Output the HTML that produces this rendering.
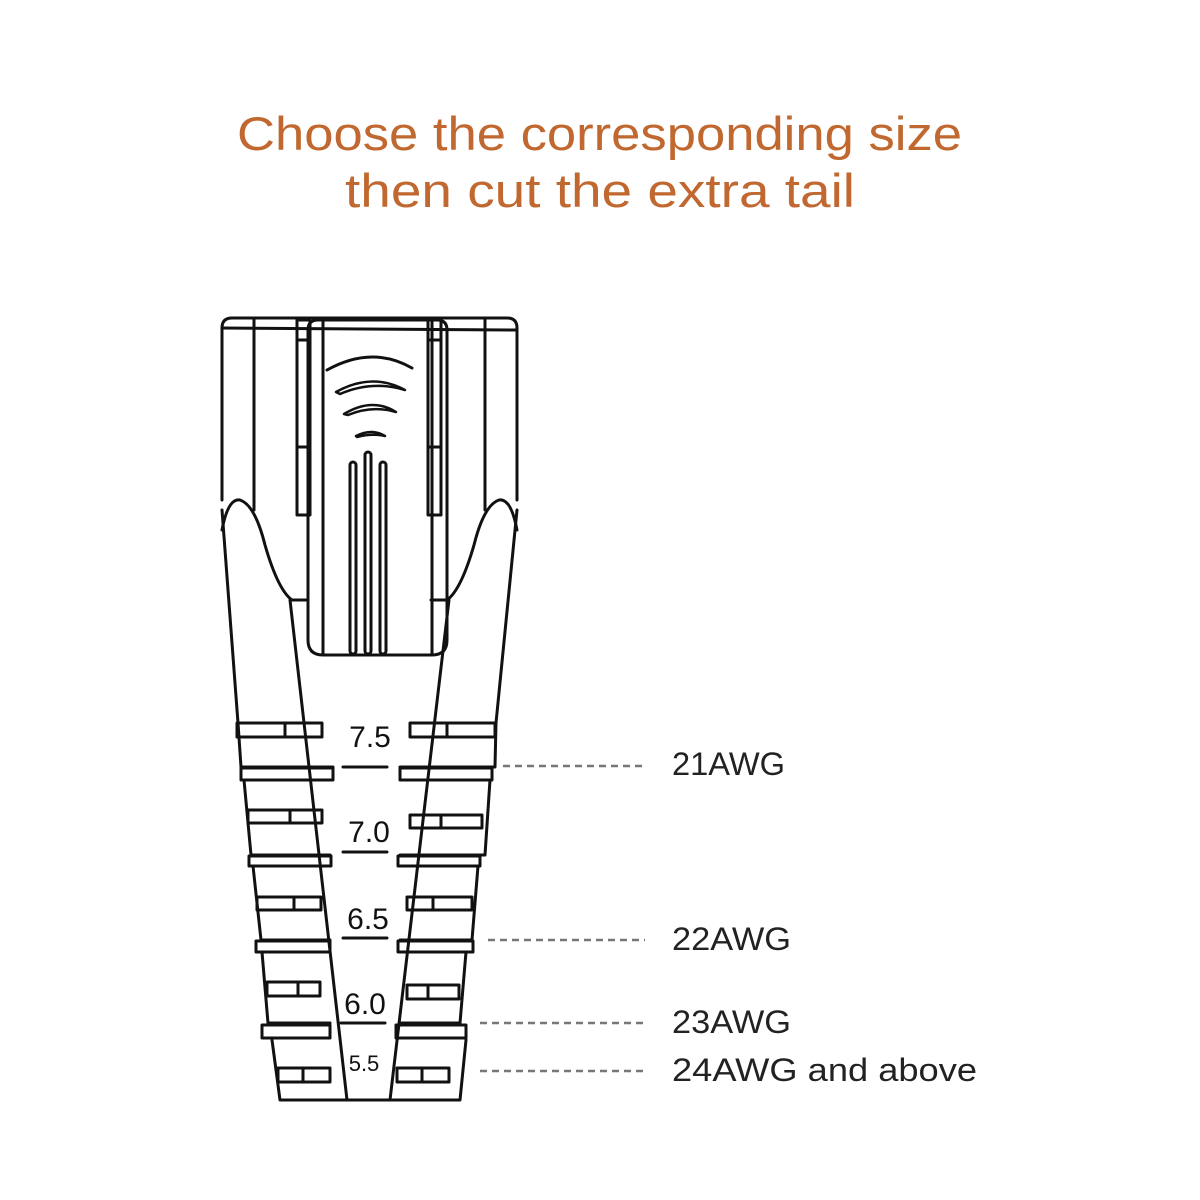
<!DOCTYPE html>
<html><head><meta charset="utf-8"><style>
html,body{margin:0;padding:0;background:#fff;}
svg{display:block}
</style></head><body>
<svg width="1200" height="1200" viewBox="0 0 1200 1200" xmlns="http://www.w3.org/2000/svg">
<rect width="1200" height="1200" fill="#fff"/>
<g font-family="Liberation Sans, sans-serif" fill="#c0682f" font-size="47">
<text x="237" y="150" textLength="725" lengthAdjust="spacingAndGlyphs">Choose the corresponding size</text>
<text x="345" y="207" textLength="510" lengthAdjust="spacingAndGlyphs">then cut the extra tail</text>
</g>
<g fill="none" stroke="#111" stroke-width="3" stroke-linejoin="round" stroke-linecap="round">
<!-- top body -->
<path d="M222,500 L222,328 Q222,318 232,318 L507,318 Q517,318 517,328 L517,500"/>
<line x1="222" y1="328" x2="517" y2="330"/>
<line x1="254" y1="320" x2="254" y2="510"/>
<line x1="485" y1="320" x2="485" y2="510"/>
<rect x="297" y="320" width="13" height="195"/>
<line x1="297" y1="340" x2="310" y2="340"/><line x1="297" y1="447" x2="310" y2="447"/>
<rect x="428" y="320" width="13" height="195"/>
<line x1="428" y1="340" x2="441" y2="340"/><line x1="428" y1="447" x2="441" y2="447"/>
<!-- clip -->
<path d="M308,330 Q308,320 318,320 L437,320 Q447,320 447,330 L447,640 Q447,655 432,655 L323,655 Q308,655 308,640 Z"/>
<line x1="323" y1="322" x2="323" y2="654"/>
<line x1="432" y1="322" x2="432" y2="654"/>
<!-- arcs -->
<path d="M327,370 Q372,345 412,368"/>
<path d="M336,392 Q372,372 405,390 Q372,380 340,394 Z" stroke-width="2.5"/>
<path d="M344,414 Q372,397 396,412 Q372,405 348,415 Z" stroke-width="2.5"/>
<path d="M356,436 Q372,428 385,436 Q372,433 357,437 Z" stroke-width="2.5"/>
<!-- slots -->
<rect x="350" y="462" width="6" height="192" rx="3"/>
<rect x="365" y="452" width="6" height="202" rx="3"/>
<rect x="380" y="462" width="6" height="192" rx="3"/>
<!-- humps -->
<path d="M222,530 Q228,498 240,500 Q255,505 265,545 Q278,590 292,600 L308,600"/>
<path d="M517,530 Q511,498 499,500 Q484,505 474,545 Q461,590 447,600 L431,600"/>
<!-- outer edges -->
<path d="M222,510 L238,723"/>
<path d="M517,510 L496,723"/>
<!-- inner V -->
<line x1="290" y1="600" x2="347" y2="1100"/>
<line x1="449" y1="600" x2="390" y2="1100"/>
<!-- left segments -->
<path d="M238,723 L241,767 L333,767"/>
<rect x="237" y="723" width="85" height="14"/><line x1="285" y1="723" x2="285" y2="737"/>
<rect x="241" y="768" width="92" height="12"/>
<path d="M244,780 L251,855 L330,855"/>
<rect x="248" y="810" width="74" height="13"/><line x1="290" y1="810" x2="290" y2="823"/>
<rect x="249" y="856" width="82" height="10"/>
<path d="M253,866 L261,940 L330,940"/>
<rect x="257" y="897" width="64" height="13"/><line x1="294" y1="897" x2="294" y2="910"/>
<rect x="256" y="941" width="74" height="11"/>
<path d="M262,952 L268,1023 L330,1023"/>
<rect x="267" y="982" width="53" height="14"/><line x1="298" y1="982" x2="298" y2="996"/>
<rect x="262" y="1025" width="68" height="13"/>
<path d="M272,1040 L280,1100 L460,1100 L466,1040"/>
<rect x="278" y="1068" width="52" height="14"/><line x1="303" y1="1068" x2="303" y2="1082"/>
<!-- right segments -->
<path d="M496,723 L495,767 L400,767"/>
<rect x="410" y="723" width="85" height="14"/><line x1="447" y1="723" x2="447" y2="737"/>
<rect x="400" y="768" width="92" height="12"/>
<path d="M490,780 L485,855 L400,855"/>
<rect x="410" y="815" width="72" height="13"/><line x1="441" y1="815" x2="441" y2="828"/>
<rect x="398" y="856" width="82" height="10"/>
<path d="M478,866 L472,940 L400,940"/>
<rect x="407" y="897" width="65" height="13"/><line x1="433" y1="897" x2="433" y2="910"/>
<rect x="398" y="941" width="75" height="11"/>
<path d="M466,952 L460,1023 L400,1023"/>
<rect x="407" y="985" width="52" height="14"/><line x1="428" y1="985" x2="428" y2="999"/>
<rect x="396" y="1025" width="70" height="13"/>
<rect x="397" y="1068" width="52" height="14"/><line x1="422" y1="1068" x2="422" y2="1082"/>
<!-- underlines -->
<line x1="343" y1="767" x2="387" y2="767"/>
<line x1="343" y1="852" x2="387" y2="852"/>
<line x1="343" y1="938" x2="387" y2="938"/>
<line x1="341" y1="1023" x2="385" y2="1023"/>
</g>
<g font-family="Liberation Sans, sans-serif" fill="#111" text-anchor="middle">
<text x="370" y="747" font-size="30">7.5</text>
<text x="369" y="842" font-size="30">7.0</text>
<text x="368" y="929" font-size="30">6.5</text>
<text x="365" y="1014" font-size="30">6.0</text>
<text x="364" y="1071" font-size="22">5.5</text>
</g>
<g stroke="#777" stroke-width="2.5" stroke-dasharray="7,5" fill="none">
<line x1="503" y1="766" x2="645" y2="766"/>
<line x1="488" y1="940" x2="645" y2="940"/>
<line x1="480" y1="1023" x2="645" y2="1023"/>
<line x1="480" y1="1071" x2="645" y2="1071"/>
</g>
<g font-family="Liberation Sans, sans-serif" fill="#222" font-size="32">
<text x="672" y="775" textLength="113" lengthAdjust="spacingAndGlyphs">21AWG</text>
<text x="672" y="950" textLength="119" lengthAdjust="spacingAndGlyphs">22AWG</text>
<text x="672" y="1033" textLength="119" lengthAdjust="spacingAndGlyphs">23AWG</text>
<text x="672" y="1081" textLength="305" lengthAdjust="spacingAndGlyphs">24AWG and above</text>
</g>
</svg>
</body></html>
